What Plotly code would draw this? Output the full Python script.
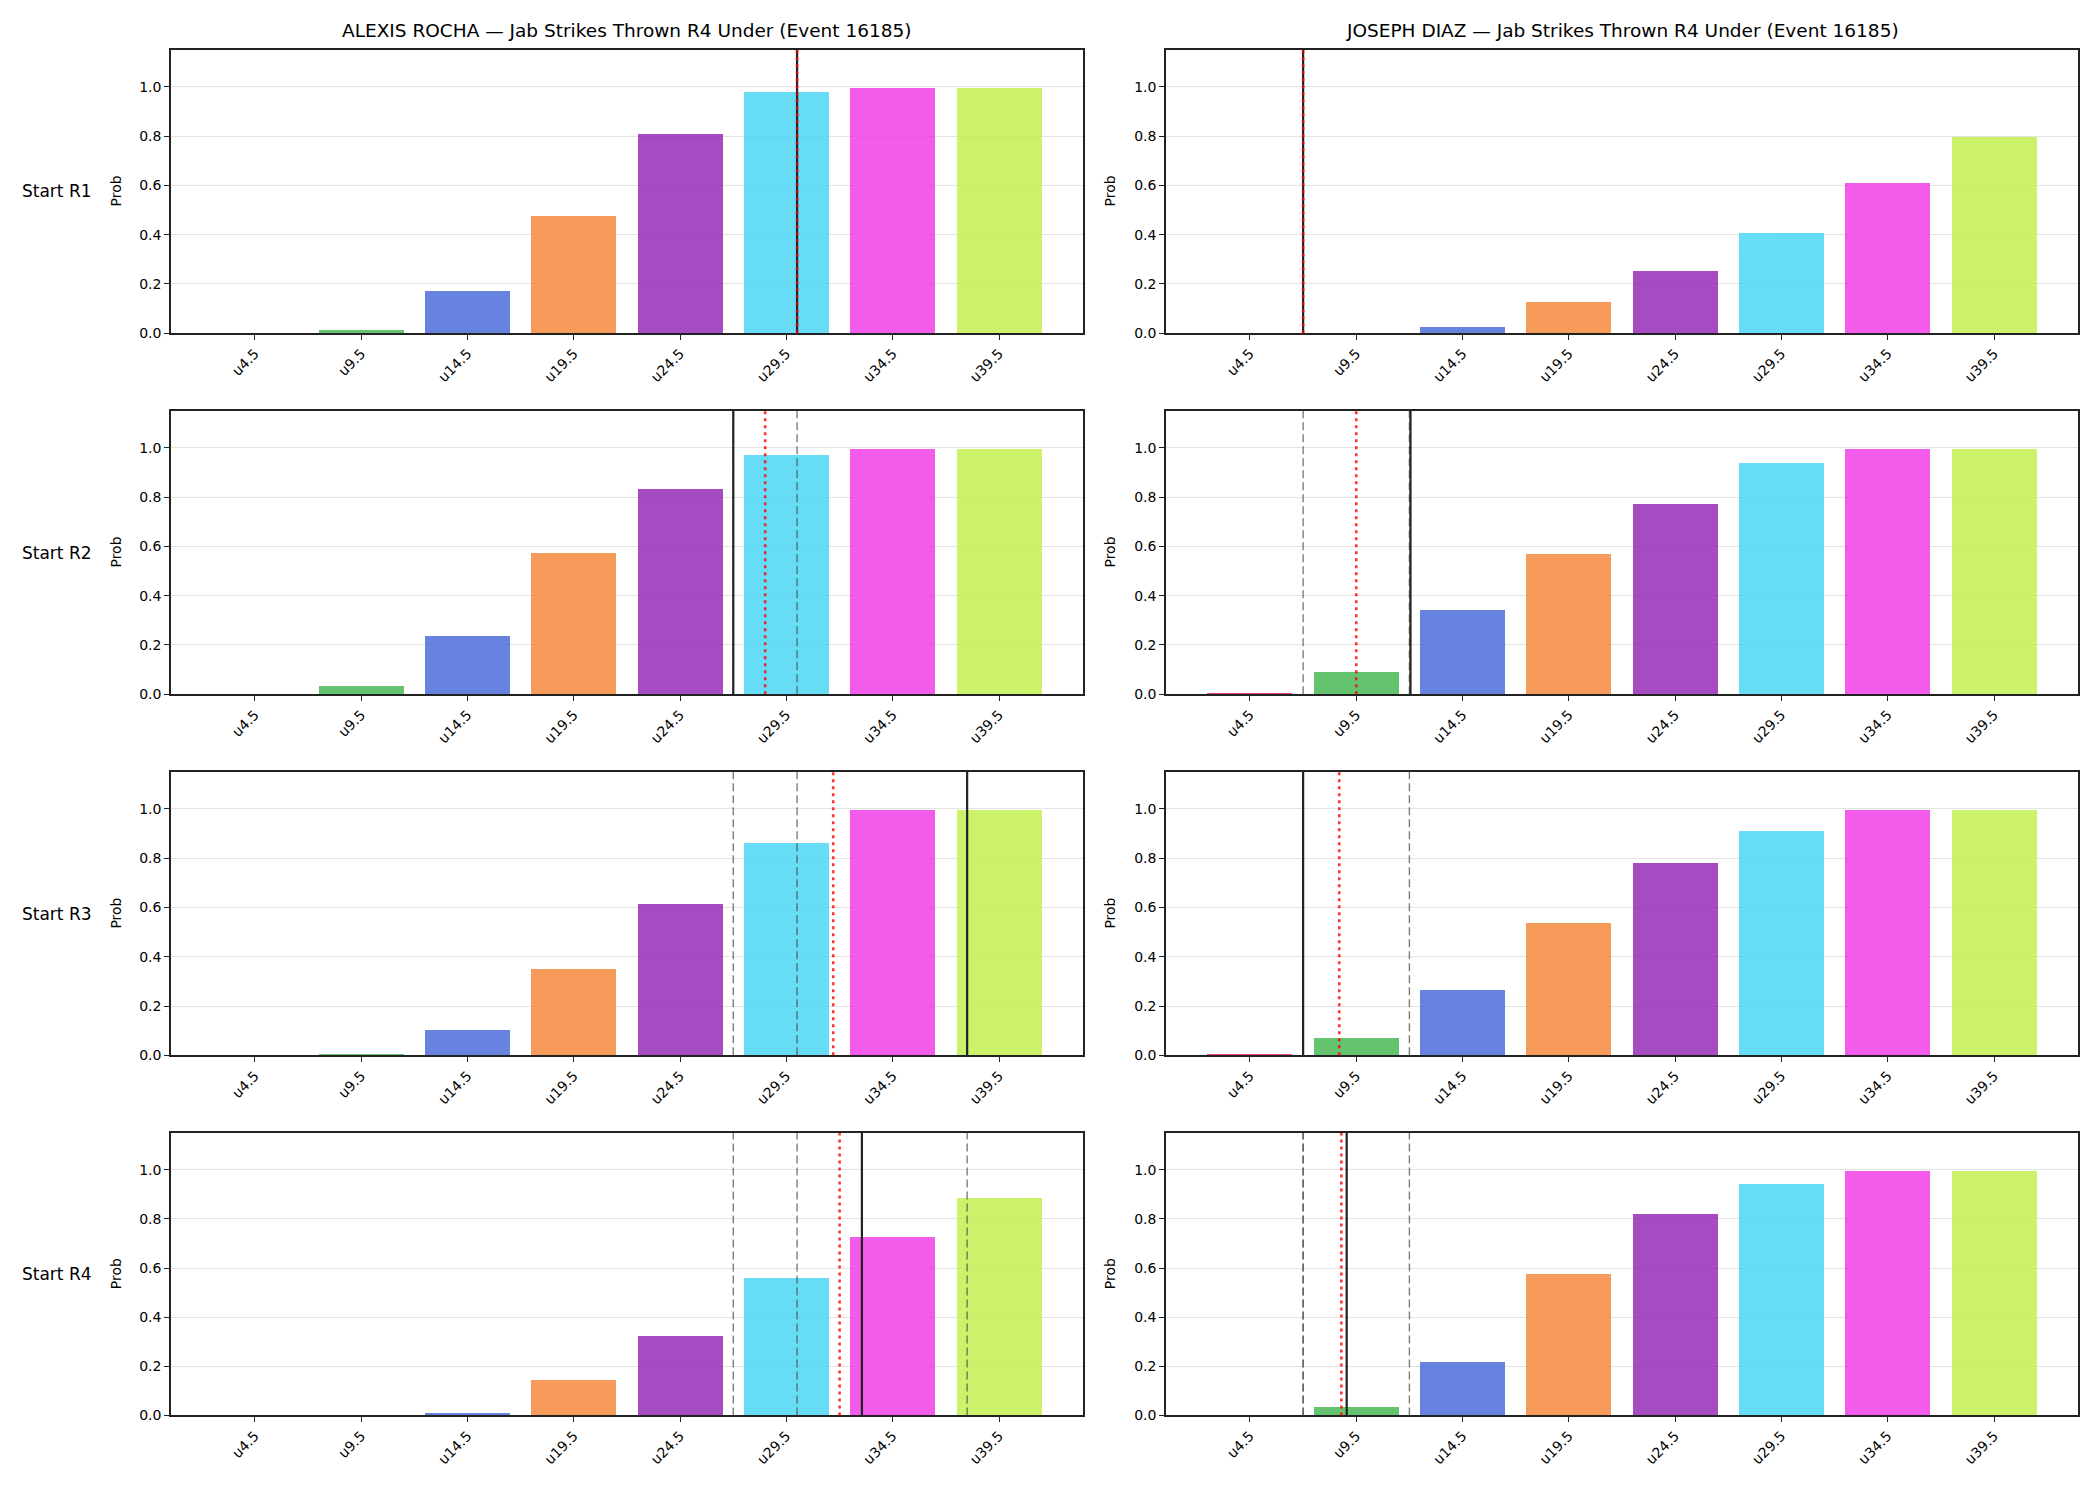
import plotly.graph_objects as go

# ---------------- data ----------------
categories = ["u4.5", "u9.5", "u14.5", "u19.5", "u24.5", "u29.5", "u34.5", "u39.5"]
bar_colors = ["#e6194b", "#3cb44b", "#4363d8", "#f58231",
              "#911eb4", "#42d4f4", "#f032e6", "#bfef45"]

fighters = ["ALEXIS ROCHA", "JOSEPH DIAZ"]
row_labels = ["Start R1", "Start R2", "Start R3", "Start R4"]
title_suffix = " — Jab Strikes Thrown R4 Under (Event 16185)"

rocha_r1 = [0.0, 0.015, 0.173, 0.476, 0.811, 0.981, 0.997, 0.997]
rocha_r2 = [0.0, 0.034, 0.236, 0.572, 0.835, 0.973, 0.997, 0.997]
rocha_r3 = [0.0, 0.007, 0.104, 0.350, 0.613, 0.864, 0.997, 0.997]
rocha_r4 = [0.0, 0.001, 0.009, 0.144, 0.322, 0.560, 0.728, 0.887]

diaz_r1 = [0.0, 0.001, 0.027, 0.128, 0.253, 0.407, 0.609, 0.799]
diaz_r2 = [0.007, 0.092, 0.343, 0.569, 0.772, 0.941, 0.997, 0.997]
diaz_r3 = [0.003, 0.069, 0.265, 0.538, 0.780, 0.912, 0.997, 0.997]
diaz_r4 = [0.0, 0.036, 0.218, 0.576, 0.820, 0.943, 0.996, 0.996]

# marker lines, in category-index units
rocha_solid = [5.10, 4.50, 6.70, 5.71]
rocha_dotted = [5.10, 4.80, 5.44, 5.50]
rocha_dashed = [[5.10], [4.50, 5.10], [4.50, 5.10], [4.50, 5.10, 6.70]]

diaz_solid = [0.50, 1.51, 0.50, 0.91]
diaz_dotted = [0.50, 1.00, 0.84, 0.86]
diaz_dashed = [[0.50], [0.50, 1.50], [0.50, 1.50], [0.50, 0.50, 1.50]]

values = [[rocha_r1, diaz_r1], [rocha_r2, diaz_r2],
          [rocha_r3, diaz_r3], [rocha_r4, diaz_r4]]
solid = [rocha_solid, diaz_solid]
dotted = [rocha_dotted, diaz_dotted]
dashed = [rocha_dashed, diaz_dashed]

# ---------------- layout geometry ----------------
W, H = 2100, 1500
col_px = [(171, 1083), (1166, 2078)]
row_px = [(50, 335), (413, 698), (776, 1061), (1139, 1423)]
ylabel_px = [116, 1110]
FONT = "DejaVu Sans"

fig = go.Figure()
layout = dict(
    width=W, height=H,
    margin=dict(l=0, r=0, t=0, b=0),
    paper_bgcolor="white", plot_bgcolor="white",
    showlegend=False,
    font=dict(family=FONT, size=14, color="#000000"),
    bargap=0,
)
shapes = []
annotations = []

for r in range(4):
    for c in range(2):
        n = r * 2 + c + 1
        xs = "x" if n == 1 else f"x{n}"
        ys = "y" if n == 1 else f"y{n}"
        fig.add_trace(go.Bar(
            x=list(range(len(categories))), y=values[r][c],
            marker=dict(color=bar_colors, line=dict(width=0)),
            opacity=0.8, width=0.8,
            xaxis=xs, yaxis=ys, hoverinfo="x+y",
        ))
        x0, x1 = col_px[c]
        y0, y1 = row_px[r]
        layout["xaxis" if n == 1 else f"xaxis{n}"] = dict(
            domain=[x0 / W, x1 / W], anchor=ys,
            range=[-0.79, 7.79],
            tickmode="array", tickvals=list(range(len(categories))),
            ticktext=categories, tickangle=-45,
            ticks="outside", ticklen=5, tickwidth=1.2, tickcolor="#222222",
            showline=True, linecolor="#222222", linewidth=1.6, mirror=True,
            showgrid=False, zeroline=False,
            tickfont=dict(family=FONT, size=14, color="#000000"),
        )
        layout["yaxis" if n == 1 else f"yaxis{n}"] = dict(
            domain=[1 - y1 / H, 1 - y0 / H], anchor=xs,
            range=[0, 1.15],
            tickmode="array", tickvals=[0, 0.2, 0.4, 0.6, 0.8, 1.0],
            ticktext=["0.0", "0.2", "0.4", "0.6", "0.8", "1.0"],
            ticks="outside", ticklen=5, tickwidth=1.2, tickcolor="#222222",
            showline=True, linecolor="#222222", linewidth=1.6, mirror=True,
            showgrid=True, gridcolor="#e3e3e3", gridwidth=1,
            zeroline=False,
            tickfont=dict(family=FONT, size=14, color="#000000"),
        )
        # vertical marker lines
        for xv in dashed[c][r]:
            shapes.append(dict(type="line", xref=xs, yref=f"{ys} domain",
                               x0=xv, x1=xv, y0=0, y1=1,
                               line=dict(color="rgba(70,70,70,0.7)", width=1.4,
                                         dash="8px,4px"), layer="above"))
        shapes.append(dict(type="line", xref=xs, yref=f"{ys} domain",
                           x0=solid[c][r], x1=solid[c][r], y0=0, y1=1,
                           line=dict(color="#222222", width=2.2), layer="above"))
        shapes.append(dict(type="line", xref=xs, yref=f"{ys} domain",
                           x0=dotted[c][r], x1=dotted[c][r], y0=0, y1=1,
                           line=dict(color="rgba(255,0,0,0.8)", width=2.6,
                                     dash="3px,4px"), layer="above"))
        # "Prob" y label
        annotations.append(dict(
            text="Prob", xref="paper", yref="paper",
            x=ylabel_px[c] / W, y=1 - (y0 + y1) / 2 / H,
            xanchor="center", yanchor="middle", textangle=-90,
            showarrow=False, font=dict(family=FONT, size=14, color="#000000")))

# column titles
for c in range(2):
    x0, x1 = col_px[c]
    annotations.append(dict(
        text=fighters[c] + title_suffix, xref="paper", yref="paper",
        x=(x0 + x1) / 2 / W, y=1 - 31 / H, xanchor="center", yanchor="middle",
        showarrow=False, font=dict(family=FONT, size=18.5, color="#000000")))

# row labels
for r in range(4):
    y0, y1 = row_px[r]
    annotations.append(dict(
        text=row_labels[r], xref="paper", yref="paper",
        x=57 / W, y=1 - (y0 + y1) / 2 / H, xanchor="center", yanchor="middle",
        showarrow=False, font=dict(family=FONT, size=17, color="#000000")))

layout["shapes"] = shapes
layout["annotations"] = annotations
fig.update_layout(**layout)
fig.write_html("out.html")
